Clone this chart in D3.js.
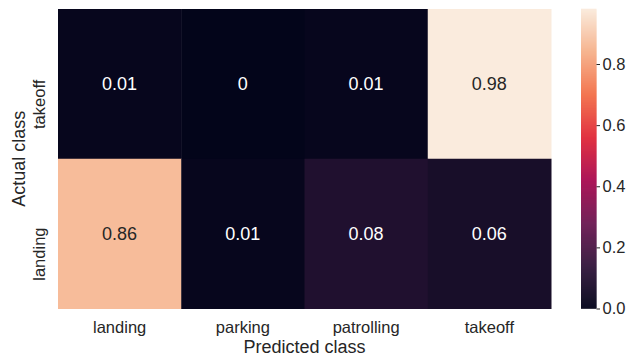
<!DOCTYPE html>
<html>
<head>
<meta charset="utf-8">
<script src="https://cdn.jsdelivr.net/npm/d3@7"></script>
<style>
  body { margin: 0; background: #fff; }
  svg { display: block; font-family: "Liberation Sans", Arial, sans-serif; }
</style>
</head>
<body>
<svg width="634" height="356"></svg>
<script>
// confusion matrix, rows = actual, cols = predicted
const predicted = ["landing", "parking", "patrolling", "takeoff"];
const actual = ["takeoff", "landing"];
const takeoffRow = [0.01, 0, 0.01, 0.98];
const landingRow = [0.86, 0.01, 0.08, 0.06];
const cbTicks = [0.0, 0.2, 0.4, 0.6, 0.8];

// rocket colormap stops
const rocketStops = ["#03051a", "#35193e", "#701f57", "#ad1759", "#e13342", "#f37651", "#f6b48f", "#faebdd"];

const rows = [takeoffRow, landingRow];
const cells = [];
rows.forEach((r, i) => r.forEach((v, j) => cells.push({row: actual[i], col: predicted[j], v: v})));

const vmin = 0, vmax = d3.max(cells, d => d.v);
const rocket = d3.scaleLinear()
  .domain(rocketStops.map((c, i) => i / (rocketStops.length - 1)))
  .range(rocketStops)
  .interpolate(d3.interpolateRgb);
const color = v => rocket((v - vmin) / (vmax - vmin));

let svg = d3.select("svg");
const textCol = "#262626";
const tickSize = "16.5px", labelSize = "18px";

const x = d3.scaleBand().domain(predicted).range([58, 551]);
const y = d3.scaleBand().domain(actual).range([9, 308.5]);

let g = svg.append("g");
g.selectAll("rect").data(cells).enter().append("rect")
  .attr("x", d => x(d.col))
  .attr("y", d => y(d.row))
  .attr("width", x.bandwidth() + 0.5)
  .attr("height", y.bandwidth() + 0.5)
  .attr("fill", d => color(d.v));

g.selectAll("text.annot").data(cells).enter().append("text")
  .attr("class", "annot")
  .attr("x", d => x(d.col) + x.bandwidth() / 2)
  .attr("y", d => y(d.row) + y.bandwidth() / 2)
  .attr("text-anchor", "middle")
  .attr("dy", "0.36em")
  .style("font-size", labelSize)
  .attr("fill", d => {
    const c = d3.lab(color(d.v));
    return c.l > 55 ? textCol : "#ffffff";
  })
  .text(d => d.v);

// x tick labels
svg.append("g").selectAll("text").data(predicted).enter().append("text")
  .attr("x", d => x(d) + x.bandwidth() / 2)
  .attr("y", 333)
  .attr("text-anchor", "middle")
  .style("font-size", tickSize)
  .attr("fill", textCol)
  .text(d => d);

// y tick labels (rotated, sit a bit below row centre like the original)
svg.append("g").selectAll("text").data(actual).enter().append("text")
  .attr("transform", d => "translate(44.5," + (y(d) + y.bandwidth() / 2 + 20.5) + ") rotate(-90)")
  .attr("text-anchor", "middle")
  .style("font-size", tickSize)
  .attr("fill", textCol)
  .text(d => d);

// axis labels
svg.append("text")
  .attr("x", (58 + 551) / 2).attr("y", 352.5)
  .attr("text-anchor", "middle")
  .style("font-size", labelSize)
  .attr("fill", textCol)
  .text("Predicted class");

svg.append("text")
  .attr("transform", "translate(25," + (9 + 308.5) / 2 + ") rotate(-90)")
  .attr("text-anchor", "middle")
  .style("font-size", labelSize)
  .attr("fill", textCol)
  .text("Actual class");

// colorbar
const cbX = 581, cbW = 15.5;
const cy = d3.scaleLinear().domain([vmin, vmax]).range([308.5, 9]);
const steps = d3.range(0, 300).map(i => vmin + (vmax - vmin) * i / 300);
const step = (vmax - vmin) / 300;
let cb = svg.append("g");
cb.selectAll("rect").data(steps).enter().append("rect")
  .attr("x", cbX)
  .attr("y", d => cy(d + step) - 0.3)
  .attr("width", cbW)
  .attr("height", d => cy(d) - cy(d + step) + 0.6)
  .attr("fill", d => color(d + step / 2));

const cbAxis = d3.axisRight(cy).tickValues(cbTicks).tickFormat(d3.format(".1f")).tickSize(3.5).tickPadding(2.5);
const ax = svg.append("g").attr("transform", "translate(" + (cbX + cbW) + ",0)").call(cbAxis);
ax.select(".domain").remove();
ax.selectAll("line").attr("stroke", textCol).attr("stroke-width", 1);
ax.selectAll("text").attr("fill", textCol).style("font-size", tickSize)
  .style("font-family", "'Liberation Sans', Arial, sans-serif");
</script>
</body>
</html>
